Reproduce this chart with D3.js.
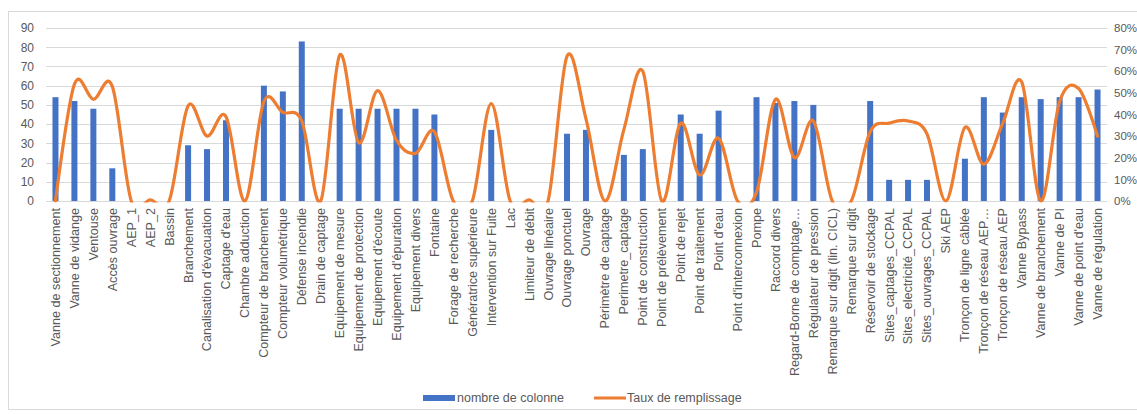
<!DOCTYPE html>
<html>
<head>
<meta charset="utf-8">
<script src="https://cdn.jsdelivr.net/npm/d3@7"></script>
<style>
  html, body { margin: 0; padding: 0; background: #fff; }
  svg { display: block; font-family: "Liberation Sans", Arial, sans-serif; }
</style>
</head>
<body>
<svg id="chart" width="1137" height="414"></svg>
<script>
const categories = [
  "Vanne de sectionnement", "Vanne de vidange", "Ventouse", "Accès ouvrage", "AEP_1", "AEP_2", "Bassin",
  "Branchement", "Canalisation d'évacuation", "Captage d'eau", "Chambre adduction", "Compteur de branchement",
  "Compteur volumétrique", "Défense incendie", "Drain de captage", "Equipement de mesure",
  "Equipement de protection", "Equipement d'écoute", "Equipement d'épuration", "Equipement divers", "Fontaine",
  "Forage de recherche", "Génératrice supérieure", "Intervention sur Fuite", "Lac", "Limiteur de débit",
  "Ouvrage linéaire", "Ouvrage ponctuel", "Ouvrage", "Périmètre de captage", "Perimetre_captage",
  "Point de construction", "Point de prélèvement", "Point de rejet", "Point de traitement", "Point d'eau",
  "Point d'interconnexion", "Pompe", "Raccord divers", "Regard-Borne de comptage…", "Régulateur de pression",
  "Remarque sur digit (lin. CICL)", "Remarque sur digit", "Réservoir de stockage", "Sites_captages_CCPAL",
  "Sites_electricité_CCPAL", "Sites_ouvrages_CCPAL", "Ski AEP", "Tronçon de ligne câblée",
  "Tronçon de réseau AEP…", "Tronçon de réseau AEP", "Vanne Bypass", "Vanne de branchement", "Vanne de PI",
  "Vanne de point d'eau", "Vanne de régulation"
];
const nombreDeColonne = [
  54, 52, 48, 17, 0, 0, 0,
  29, 27, 42, 0, 60,
  57, 83, 0, 48,
  48, 48, 48, 48, 45,
  0, 0, 37, 0, 0,
  0, 35, 37, 0, 24,
  27, 0, 45, 35, 47,
  0, 54, 51, 52, 50,
  0, 0, 52, 11,
  11, 11, 0, 22,
  54, 46, 54, 53, 54,
  54, 58
];
const tauxDeRemplissage = [
  0, 0.54, 0.47, 0.53, 0, 0.005, 0,
  0.44, 0.30, 0.39, 0, 0.46,
  0.41, 0.37, 0, 0.675,
  0.27, 0.51, 0.28, 0.22, 0.32,
  0, 0, 0.45, 0, 0.005,
  0, 0.67, 0.38, 0, 0.33,
  0.60, 0, 0.36, 0.12, 0.29,
  0, 0.04, 0.47, 0.20, 0.37,
  0, 0, 0.32, 0.36,
  0.37, 0.31, 0, 0.34,
  0.17, 0.36, 0.55, 0, 0.46,
  0.52, 0.30
];
const leftTicks = [0, 10, 20, 30, 40, 50, 60, 70, 80, 90];
const rightTicks = [0, 0.1, 0.2, 0.3, 0.4, 0.5, 0.6, 0.7, 0.8];
const legendLabels = ["nombre de colonne", "Taux de remplissage"];

const BLUE = "#4472C4", ORANGE = "#ED7D31", GRID = "#d9d9d9", TEXT = "#595959";
const svg = d3.select("#chart");
const plot = { left: 46, right: 1107, top: 28, bottom: 201 };

// outer chart border
svg.append("rect").attr("x", 8.5).attr("y", 11.5).attr("width", 1140).attr("height", 398)
  .attr("fill", "none").attr("stroke", "#d9d9d9");

const x = d3.scaleBand().domain(categories).range([plot.left, plot.right]).paddingInner(0).paddingOuter(0);
const yL = d3.scaleLinear().domain([0, 90]).range([plot.bottom, plot.top]);
const yR = d3.scaleLinear().domain([0, 0.8]).range([plot.bottom, plot.top]);

// gridlines
svg.append("g").selectAll("line").data(leftTicks).join("line")
  .attr("x1", plot.left).attr("x2", plot.right)
  .attr("y1", d => Math.round(yL(d)) + 0.5).attr("y2", d => Math.round(yL(d)) + 0.5)
  .attr("stroke", GRID).attr("stroke-width", 1);

// left axis
const axL = svg.append("g").attr("transform", `translate(${plot.left - 12},0)`)
  .call(d3.axisLeft(yL).tickValues(leftTicks).tickSize(0).tickPadding(0));
axL.select(".domain").remove();
axL.selectAll("text").attr("fill", TEXT).style("font-size", "12px").style("font-family", "Liberation Sans, Arial, sans-serif");

// right axis
const axR = svg.append("g").attr("transform", `translate(${plot.right + 7},0)`)
  .call(d3.axisRight(yR).tickValues(rightTicks).tickFormat(d3.format(".0%")).tickSize(0).tickPadding(0));
axR.select(".domain").remove();
axR.selectAll("text").attr("fill", TEXT).style("font-size", "11.5px").style("font-family", "Liberation Sans, Arial, sans-serif");

// bars
const bw = 6;
svg.append("g").selectAll("rect").data(categories).join("rect")
  .attr("x", (d) => x(d) + x.bandwidth() / 2 - bw / 2)
  .attr("width", bw)
  .attr("y", (d, i) => yL(nombreDeColonne[i]))
  .attr("height", (d, i) => plot.bottom - yL(nombreDeColonne[i]))
  .attr("fill", BLUE);

// line (smoothed), clipped to plot area
svg.append("clipPath").attr("id", "clip").append("rect")
  .attr("x", plot.left - 5).attr("y", 0).attr("width", plot.right - plot.left + 10).attr("height", plot.bottom + 1.5);
const line = d3.line()
  .x((d, i) => x(categories[i]) + x.bandwidth() / 2)
  .y(d => yR(d))
  .curve(d3.curveCardinal.tension(0));
svg.append("path").datum(tauxDeRemplissage)
  .attr("d", line).attr("fill", "none").attr("stroke", ORANGE).attr("stroke-width", 3.2)
  .attr("stroke-linejoin", "round").attr("stroke-linecap", "round")
  .attr("clip-path", "url(#clip)");

// category labels
const axB = svg.append("g").attr("transform", `translate(0,${plot.bottom + 7})`)
  .call(d3.axisBottom(x).tickSize(0).tickPadding(0));
axB.select(".domain").remove();
axB.selectAll("text")
  .attr("fill", TEXT)
  .style("font-size", "12.6px").style("font-family", "Liberation Sans, Arial, sans-serif")
  .attr("text-anchor", "end").attr("dy", "0.35em")
  .attr("transform", "rotate(-90)")
  .attr("x", 0).attr("y", 0);

// legend
const lg = svg.append("g");
lg.append("rect").attr("x", 423).attr("y", 395).attr("width", 32).attr("height", 6).attr("fill", BLUE);
lg.append("text").attr("x", 457).attr("y", 398).attr("dy", "0.35em").attr("fill", TEXT)
  .style("font-size", "12.5px").text(legendLabels[0]);
lg.append("line").attr("x1", 594).attr("x2", 626).attr("y1", 398).attr("y2", 398)
  .attr("stroke", ORANGE).attr("stroke-width", 3);
lg.append("text").attr("x", 627).attr("y", 398).attr("dy", "0.35em").attr("fill", TEXT)
  .style("font-size", "12.5px").text(legendLabels[1]);
</script>
</body>
</html>
